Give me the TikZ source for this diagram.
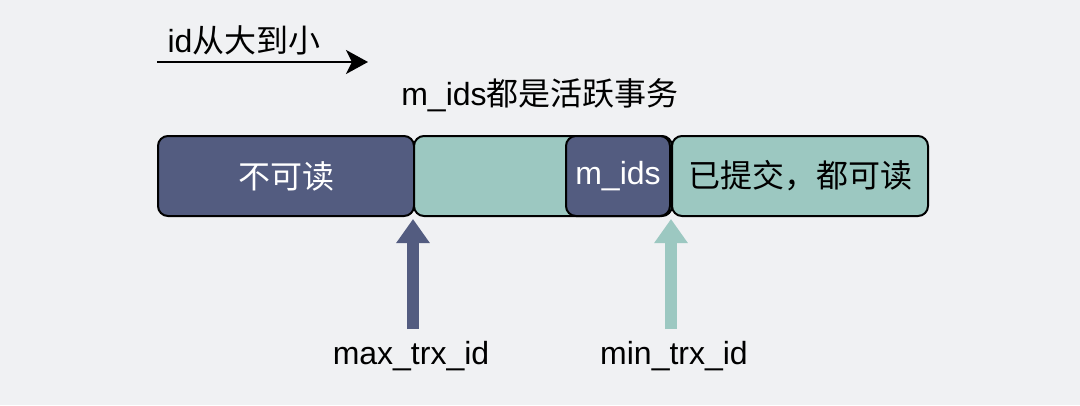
\documentclass[tikz,border=0pt]{standalone}
\usepackage{fontspec}
\setmainfont{Liberation Sans}
\newfontfamily\cn{Noto Sans CJK SC}
\usetikzlibrary{arrows.meta}
\definecolor{bgc}{HTML}{F0F1F3}
\definecolor{navy}{HTML}{535C80}
\definecolor{teal}{HTML}{9CC8C1}
\tikzset{
  box/.style={draw=black, line width=2pt, rounded corners=10pt, minimum height=80pt, inner sep=0pt},
  lbl/.style={font=\fontsize{32}{36}\selectfont, inner sep=0pt},
  fat/.style={line width=12pt, -{Triangle[width=32pt,length=24pt]}},
}
\begin{document}
\begin{tikzpicture}[x=1pt,y=-1pt]
\fill[bgc] (0,0) rectangle (1080,405);
\useasboundingbox (0,0) rectangle (1080,405);
% top arrow
\node[lbl] (dir) at (244,40) {id{\cn 从大到小}};
\coordinate (s) at (157,62);
\coordinate (e) at (368,62);
\draw[line width=2pt, -{Stealth[length=22pt,width=24pt,inset=6pt]}] (s) -- (e);
\node[lbl] (act) at (540,95) {m\_ids{\cn 都是活跃事务}};
% boxes
\node[box, fill=navy, text=white, minimum width=256pt, lbl] (b1) at (286,176) {\cn 不可读};
\node[box, fill=teal, minimum width=258pt] (b2) at (543,176) {};
\node[box, fill=navy, text=white, minimum width=104pt, lbl] (b3) at (618,176) {m\_ids};
\node[box, fill=teal, minimum width=256pt, lbl] (b4) at (800,176) {\cn 已提交，都可读};
% bottom labels and arrows
\node[lbl] (mx) at (411,356) {max\_trx\_id};
\node[lbl] (mn) at (674,356) {min\_trx\_id};
\coordinate (t1) at (413,219);
\coordinate (t2) at (671,219);
\draw[fat, navy] (mx.north -| t1) ++(0,-12) -- (t1);
\draw[fat, teal] (mn.north -| t2) ++(0,-12) -- (t2);
\end{tikzpicture}
\end{document}
